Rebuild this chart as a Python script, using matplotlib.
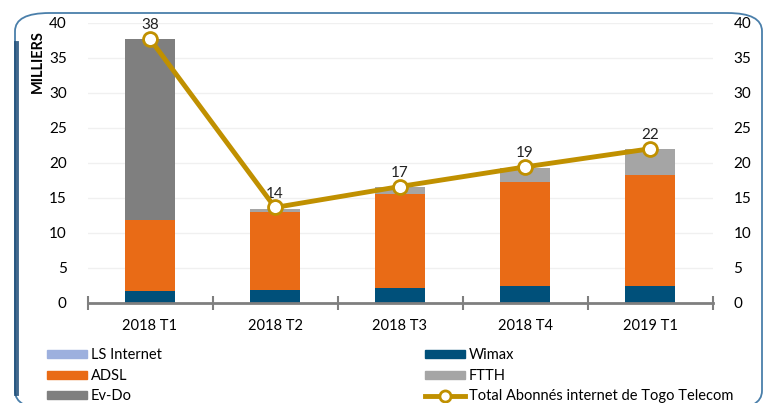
import numpy as np
import matplotlib
matplotlib.use('Agg')
import matplotlib.pyplot as plt
from matplotlib.patches import FancyBboxPatch, Patch
from matplotlib.lines import Line2D

# ===== data =====
categories = ['2018 T1', '2018 T2', '2018 T3', '2018 T4', '2019 T1']
wimax = [1.6, 1.8, 2.1, 2.3, 2.3]
adsl = [10.2, 11.2, 13.4, 14.9, 16.0]
ls_internet = [0, 0, 0, 0, 0]
ftth = [0, 0.4, 1.0, 2.1, 3.6]
evdo = [25.9, 0, 0, 0, 0]
total = [37.7, 13.6, 16.6, 19.4, 22.0]

c_wimax = '#00507A'
c_adsl = '#E96B16'
c_ls = '#9DB0DE'
c_ftth = '#A5A5A5'
c_evdo = '#7F7F7F'
c_total = '#C09000'

plt.rcParams['font.family'] = ['Lato', 'DejaVu Sans']
plt.rcParams['font.size'] = 10

fig = plt.figure(figsize=(7.66, 4.03), dpi=100)
W, H = 766, 403

# rounded frame (bottom edge runs just off the picture)
frame = FancyBboxPatch((15 / W, -6 / H), 747 / W, 396 / H,
                       boxstyle='round,pad=0,rounding_size=0.045',
                       transform=fig.transFigure, fill=False,
                       edgecolor='#4A7FAA', lw=1.3, zorder=0)
fig.patches.append(frame)
fig.lines.append(Line2D([15.5 / W, 15.5 / W], [10 / H, 360 / H], transform=fig.transFigure,
                        color='#1F4E79', lw=3.5, alpha=0.85))

ax = fig.add_axes([87.5 / W, 1 - 302.5 / H, 625 / W, 279.5 / H])
x = np.arange(len(categories))
bw = 0.4

bottom = np.zeros(len(categories))
for vals, col in [(wimax, c_wimax), (adsl, c_adsl), (ls_internet, c_ls), (ftth, c_ftth), (evdo, c_evdo)]:
    ax.bar(x, vals, bw, bottom=bottom, color=col, zorder=2)
    bottom += np.array(vals)

ax.plot(x, total, color=c_total, lw=3.5, marker='o', markersize=10,
        markerfacecolor='white', markeredgecolor=c_total, markeredgewidth=2, zorder=4)
for xi, v in zip(x, total):
    ax.annotate(f'{v:.0f}', (xi, v), xytext=(0, 5), textcoords='offset points',
                ha='center', va='bottom', fontsize=11, color='#222222')

ax.set_xlim(-0.5, 4.5)
ax.set_ylim(0, 40)
ax.set_yticks(range(0, 41, 5))
ax.set_xticks(x)
ax.set_xticklabels(categories)
ax.set_xticks(np.arange(-0.5, 5, 1), minor=True)
ax.tick_params(axis='x', which='major', length=0, pad=12, labelsize=10.5)
ax.tick_params(axis='x', which='minor', length=10, direction='inout', color='#7F7F7F', width=1.5)
ax.tick_params(axis='y', length=0, pad=15, labelsize=11)
for s in ['top', 'right', 'left']:
    ax.spines[s].set_visible(False)
ax.spines['bottom'].set_color('#7F7F7F')
ax.spines['bottom'].set_linewidth(2)
ax.grid(axis='y', color='#F0F0F0', lw=1, zorder=0)
ax.set_axisbelow(True)

ax2 = ax.twinx()
ax2.set_ylim(0, 40)
ax2.set_yticks(range(0, 41, 5))
ax2.tick_params(axis='y', length=0, pad=15, labelsize=11)
for s in ['top', 'right', 'left', 'bottom']:
    ax2.spines[s].set_visible(False)

fig.text(38 / W, 1 - 62 / H, 'MILLIERS', rotation=90, ha='center', va='center',
         fontsize=10.5, fontweight='bold')

h_left = [Patch(color=c_ls), Patch(color=c_adsl), Patch(color=c_evdo)]
h_right = [Patch(color=c_wimax), Patch(color=c_ftth),
           Line2D([], [], color=c_total, lw=3.5, marker='o', markersize=8,
                  markerfacecolor='white', markeredgecolor=c_total, markeredgewidth=2)]
kw = dict(frameon=False, fontsize=10.5, handlelength=2.7, handleheight=0.5,
          handletextpad=0.3, labelspacing=0.45, borderpad=0, loc='upper left')
fig.legend(h_left, ['LS Internet', 'ADSL', 'Ev-Do'], bbox_to_anchor=(40 / W, 1 - 341 / H), **kw)
fig.legend(h_right, ['Wimax', 'FTTH', 'Total Abonnés internet de Togo Telecom'],
           bbox_to_anchor=(418 / W, 1 - 341 / H), **kw)

fig.savefig('out.png', dpi=100)
